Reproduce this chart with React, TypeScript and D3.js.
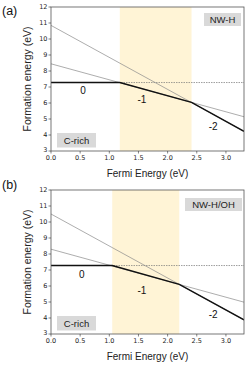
import React from "react";
import * as d3 from "d3";

// ---- data ----
const xTicks = [0.0, 0.5, 1.0, 1.5, 2.0, 2.5, 3.0];
const yTicks = [3, 4, 5, 6, 7, 8, 9, 10, 11, 12];
const xDomain = [0, 3.31];
const yDomain = [3, 12];

// charge-state lines: formation energy at Fermi energy 0 and at the right edge
const chargeStates = ["0", "-1", "-2"];
const lineStartA = [7.28, 8.45, 10.85];
const lineEndA = [7.28, 5.14, 4.23];
const lineStartB = [7.28, 8.3, 10.5];
const lineEndB = [7.28, 4.99, 3.88];

// lower envelope (thick black)
const envelopeA: [number, number][] = [[0, 7.28], [1.18, 7.28], [2.41, 6.04], [3.31, 4.23]];
const envelopeB: [number, number][] = [[0, 7.28], [1.05, 7.28], [2.2, 6.1], [3.31, 3.88]];

// shaded band (Fermi energy range)
const bandA = [1.18, 2.41];
const bandB = [1.05, 2.2];

// charge labels positions (data coords)
const labelPosA: [number, number][] = [[0.55, 6.8], [1.56, 6.23], [2.78, 4.55]];
const labelPosB: [number, number][] = [[0.53, 6.75], [1.56, 5.69], [2.78, 4.19]];

const panelTags = ["(a)", "(b)"];
const systemNames = ["NW-H", "NW-H/OH"];
const conditionName = "C-rich";

const W = 250;
const H = 366;
const left = 51;
const right = 244;
const plotH = 144;

const SANS = "Liberation Sans, Arial, Helvetica, sans-serif";
const TICKF = "DejaVu Sans, sans-serif";

type PanelProps = {
  top: number;
  tag: string;
  tagY: number;
  name: string;
  nameBox: [number, number, number, number];
  lineStart: number[];
  lineEnd: number[];
  envelope: [number, number][];
  band: number[];
  labelPos: [number, number][];
};

function Panel(p: PanelProps) {
  const x = d3.scaleLinear().domain(xDomain).range([left, right]);
  const y = d3.scaleLinear().domain(yDomain).range([p.top + plotH, p.top]);
  const line = d3
    .line<[number, number]>()
    .x((d) => x(d[0]))
    .y((d) => y(d[1]));
  const bottom = p.top + plotH;
  const [bx, by, bw, bh] = p.nameBox;
  return (
    <g>
      <text x={2} y={p.tagY} fontFamily={SANS} fontSize={12.5} fill="#111">
        {p.tag}
      </text>
      <clipPath id={"clip" + p.top}>
        <rect x={left} y={p.top} width={right - left} height={plotH} />
      </clipPath>
      <rect
        x={x(p.band[0])}
        y={p.top}
        width={x(p.band[1]) - x(p.band[0])}
        height={plotH}
        fill="#fff4d6"
      />
      <g clipPath={`url(#clip${p.top})`}>
        {chargeStates.map((q, i) => (
          <path
            key={q}
            d={line([
              [xDomain[0], p.lineStart[i]],
              [xDomain[1], p.lineEnd[i]],
            ])!}
            stroke={i === 0 ? "#777" : "#8a8a8a"}
            strokeWidth={0.7}
            strokeDasharray={i === 0 ? "1.5,1" : undefined}
            fill="none"
          />
        ))}
        <path d={line(p.envelope)!} stroke="#111" strokeWidth={1.5} fill="none" />
      </g>
      {/* frame */}
      <rect
        x={left}
        y={p.top}
        width={right - left}
        height={plotH}
        fill="none"
        stroke="#555"
        strokeWidth={0.8}
      />
      {/* ticks */}
      {xTicks.map((t) => (
        <g key={"x" + t}>
          <line x1={x(t)} x2={x(t)} y1={bottom} y2={bottom + 2.5} stroke="#333" strokeWidth={0.6} />
          <text
            x={x(t)}
            y={bottom + 8.5}
            textAnchor="middle"
            fontFamily={TICKF}
            fontSize={6.5}
            fill="#222"
          >
            {d3.format(".1f")(t)}
          </text>
        </g>
      ))}
      {yTicks.map((t) => (
        <g key={"y" + t}>
          <line x1={left - 2.5} x2={left} y1={y(t)} y2={y(t)} stroke="#333" strokeWidth={0.6} />
          <text
            x={left - 3.5}
            y={y(t) - (t === yDomain[0] ? 0.8 : 0)}
            textAnchor="end"
            dominantBaseline="central"
            fontFamily={TICKF}
            fontSize={6.5}
            fill="#222"
          >
            {t}
          </text>
        </g>
      ))}
      {/* axis titles */}
      <text
        x={(left + right) / 2}
        y={bottom + 26}
        textAnchor="middle"
        fontFamily={SANS}
        fontSize={10}
        fill="#222"
      >
        Fermi Energy (eV)
      </text>
      <text
        transform={`translate(27,${p.top + plotH / 2}) rotate(-90)`}
        textAnchor="middle"
        dominantBaseline="central"
        fontFamily={SANS}
        fontSize={10.5}
        fill="#222"
      >
        Formation energy (eV)
      </text>
      {/* charge labels */}
      {chargeStates.map((q, i) => (
        <text
          key={"l" + q}
          x={x(p.labelPos[i][0])}
          y={y(p.labelPos[i][1])}
          textAnchor="middle"
          dominantBaseline="central"
          fontFamily={SANS}
          fontSize={10}
          fill="#111"
        >
          {q}
        </text>
      ))}
      {/* name box */}
      <rect x={bx} y={by} width={bw} height={bh} fill="#d9d9d9" />
      <text
        x={bx + bw / 2}
        y={by + bh / 2}
        textAnchor="middle"
        dominantBaseline="central"
        fontFamily={SANS}
        fontSize={9.5}
        fill="#222"
      >
        {p.name}
      </text>
      {/* condition box */}
      <rect x={57} y={p.top + 126} width={39} height={14.5} fill="#d9d9d9" />
      <text
        x={57 + 39 / 2}
        y={p.top + 126 + 7.25}
        textAnchor="middle"
        dominantBaseline="central"
        fontFamily={SANS}
        fontSize={9.5}
        fill="#222"
      >
        {conditionName}
      </text>
    </g>
  );
}

export default function App() {
  return (
    <svg
      width={W}
      height={H}
      style={{ position: "absolute", left: 0, top: 0, background: "#fff" }}
    >
      <rect width={W} height={H} fill="#fff" />
      <Panel
        top={7}
        tag={panelTags[0]}
        tagY={15}
        name={systemNames[0]}
        nameBox={[204, 13, 37, 13]}
        lineStart={lineStartA}
        lineEnd={lineEndA}
        envelope={envelopeA}
        band={bandA}
        labelPos={labelPosA}
      />
      <Panel
        top={190}
        tag={panelTags[1]}
        tagY={189}
        name={systemNames[1]}
        nameBox={[185, 198, 57, 13]}
        lineStart={lineStartB}
        lineEnd={lineEndB}
        envelope={envelopeB}
        band={bandB}
        labelPos={labelPosB}
      />
    </svg>
  );
}
